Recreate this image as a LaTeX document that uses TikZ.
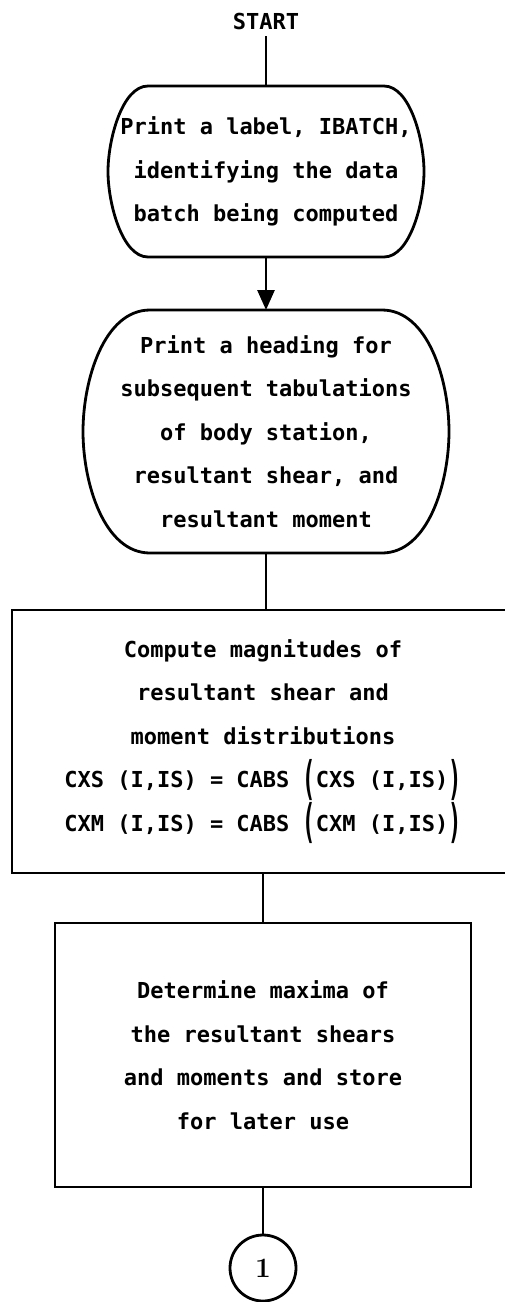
\documentclass[tikz,border=0pt]{standalone}
\usepackage{fontspec}
\usepackage{graphicx}
\usepackage{tikz}
\usetikzlibrary{arrows.meta, positioning}

\newfontfamily\typefont{DejaVu Sans Mono}
\newcommand{\tallparen}[1]{\raisebox{-0.3em}{\scalebox{1}[2.1]{#1}}}

\begin{document}
\begin{tikzpicture}[x=1pt, y=-1pt,
  flowline/.style={line width=2.8pt},
  typetext/.style={font=\typefont\bfseries\fontsize{22}{43.5}\selectfont, align=center, inner sep=0pt, outer sep=0pt},
  stepbox/.style={draw, flowline, typetext}]

  \useasboundingbox (0,0) rectangle (504,1302);

  % start label
  \node[typetext] (start) at (266,21) {START};

  % first terminal
  \node[typetext, minimum height=171pt] (batch) at (266,171.5)
    {Print a label, IBATCH,\\identifying the data\\batch being computed};
  \draw[flowline] (148,86) -- (384,86)
    .. controls (410,86) and (424,140) .. (424,171.5)
    .. controls (424,203) and (410,257) .. (384,257)
    -- (148,257)
    .. controls (122,257) and (108,203) .. (108,171.5)
    .. controls (108,140) and (122,86) .. (148,86) -- cycle;

  % second terminal
  \node[typetext, minimum height=243pt] (heading) at (266,431.5)
    {Print a heading for\\subsequent tabulations\\of body station,\\resultant shear, and\\resultant moment};
  \draw[flowline] (150,310) -- (382,310)
    .. controls (428,310) and (449,380) .. (449,431.5)
    .. controls (449,483) and (428,553) .. (382,553)
    -- (150,553)
    .. controls (104,553) and (83,483) .. (83,431.5)
    .. controls (83,380) and (104,310) .. (150,310) -- cycle;

  % process boxes
  \node[stepbox, minimum width=502pt, minimum height=263pt] (compute) at (263,741.5)
    {Compute magnitudes of\\resultant shear and\\moment distributions\\
     CXS (I,IS) = CABS \tallparen{(}CXS (I,IS)\tallparen{)}\\
     CXM (I,IS) = CABS \tallparen{(}CXM (I,IS)\tallparen{)}};

  \node[stepbox, minimum width=416pt, minimum height=264pt] (maxima) at (263,1055)
    {Determine maxima of\\the resultant shears\\and moments and store\\for later use};

  % connector
  \node[draw, flowline, circle, minimum size=66pt, inner sep=0pt,
        font=\bfseries\fontsize{28}{32}\selectfont] (conn) at (263,1268) {1};

  \draw[flowline, shorten <=7pt] (start.south) -- (batch.north);
  \draw[flowline, -{Triangle[width=17pt, length=20pt]}] (batch.south) -- (heading.north);
  \draw[flowline] (heading.south) -- (heading.south |- compute.north);
  \draw[flowline] (compute.south) -- (maxima.north);
  \draw[flowline] (maxima.south) -- (conn.north);

\end{tikzpicture}
\end{document}
